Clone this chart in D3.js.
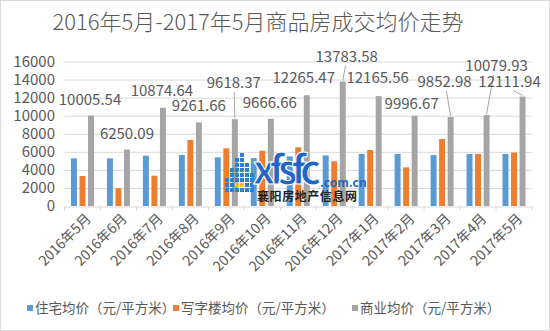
<!DOCTYPE html>
<html><head><meta charset="utf-8">
<script src="https://cdn.jsdelivr.net/npm/d3@7"></script>
<style>
body{margin:0;background:#fff}
text{font-family:"Noto Sans CJK SC","Noto Sans",sans-serif}
</style>
</head><body>
<svg id="c" width="550" height="331"></svg>
<script>
const categories = ["2016年5月","2016年6月","2016年7月","2016年8月","2016年9月","2016年10月","2016年11月","2016年12月","2017年1月","2017年2月","2017年3月","2017年4月","2017年5月"];
const residential = [5280,5280,5570,5650,5390,5300,5500,5600,5760,5760,5650,5760,5760];
const office = [3320,1960,3360,7310,6390,6120,6500,4950,6200,4280,7420,5760,5920];
const commercial = [10005.54,6250.09,10874.64,9261.66,9618.37,9666.66,12265.47,13783.58,12165.56,9996.67,9852.98,10079.93,12111.94];
const seriesNames = ["住宅均价（元/平方米）","写字楼均价（元/平方米）","商业均价（元/平方米）"];
const seriesColors = ["#5b9bd5","#ed7d31","#a5a5a5"];
const yTicks = [0,2000,4000,6000,8000,10000,12000,14000,16000];
const titleText = "2016年5月-2017年5月商品房成交均价走势";

// label layout (offset of label centre from top-centre of commercial bar)
const labelDx = [-1,0,-1,0,-1,-1,-3,4,-1,-3,-6,10,-13];
const labelDy = [-16,-16,-17,-17,-36,-16,-17,-25,-18,-12,-35,-49,-15];
const leader  = [0,0,0,0,1,0,0,1,0,0,1,1,1];

const svg = d3.select("#c");
svg.append("rect").attr("x",0.5).attr("y",0.5).attr("width",549).attr("height",330)
  .attr("fill","#fff").attr("stroke","#d9d9d9");

const x0 = d3.scaleBand().domain(categories).range([64.5,532]).paddingInner(0.36).paddingOuter(0.18);
const x1 = d3.scaleBand().domain([0,1,2]).range([0,x0.bandwidth()]).paddingInner(0.3);
const y = d3.scaleLinear().domain([0,16000]).range([206,61.5]);

// title
svg.append("text").attr("x",258).attr("y",29.5).attr("text-anchor","middle")
  .attr("font-size",22).attr("font-weight",300).attr("fill","#595959").text(titleText);

// gridlines
svg.append("g").selectAll("line").data(yTicks.slice(1)).join("line")
  .attr("x1",64.5).attr("x2",532).attr("y1",d=>y(d)+0.5).attr("y2",d=>y(d)+0.5)
  .attr("stroke","#d9d9d9").attr("stroke-width",1);

// y labels
svg.append("g").selectAll("text").data(yTicks).join("text")
  .attr("x",55).attr("y",d=>y(d)).attr("dy","0.35em").attr("text-anchor","end")
  .attr("font-size",15).attr("fill","#595959").text(d=>d);

// bars
const series = [residential, office, commercial];
const g = svg.append("g");
series.forEach((vals,si)=>{
  g.append("g").selectAll("rect").data(vals).join("rect")
    .attr("x",(d,i)=>x0(categories[i])+x1(si))
    .attr("width",x1.bandwidth())
    .attr("y",d=>y(d)).attr("height",d=>y(0)-y(d))
    .attr("fill",seriesColors[si]);
});

// x axis
const xAxis = d3.axisBottom(x0).tickSize(0).tickFormat("");
const ax = svg.append("g").attr("transform",`translate(0,${y(0)+0.5})`).call(xAxis);
ax.select(".domain").attr("stroke","#d9d9d9");
const bounds = categories.map(c=>x0(c)-x0.step()*x0.paddingInner()/2).concat([532]);
ax.selectAll(".tk").data(bounds).join("line").attr("class","tk")
  .attr("x1",d=>d).attr("x2",d=>d).attr("y1",0).attr("y2",4).attr("stroke","#d9d9d9");

svg.append("g").selectAll("text").data(categories).join("text")
  .attr("transform",d=>`translate(${x0(d)+x0.bandwidth()/2+6},${y(0)+10}) rotate(-45)`)
  .attr("text-anchor","end").attr("dy","0.35em")
  .attr("font-size",14).attr("fill","#595959").text(d=>d);

// data labels
const fmt = d3.format(".2f");
const lab = svg.append("g");
commercial.forEach((v,i)=>{
  const bx = x0(categories[i])+x1(2)+x1.bandwidth()/2;
  const by = y(v);
  const lx = bx+labelDx[i], ly = by+labelDy[i];
  if(leader[i]){
    lab.append("line").attr("x1",lx-labelDx[i]*0.3).attr("y1",ly+9).attr("x2",bx).attr("y2",by-1)
      .attr("stroke","#a6a6a6").attr("stroke-width",1);
  }
  lab.append("text").attr("x",lx).attr("y",ly).attr("dy","0.35em").attr("text-anchor","middle")
    .attr("font-size",15).attr("fill","#595959").text(fmt(v));
});

// watermark
const wm = svg.append("g");
const colH = [3,5,7,8,6,4];
colH.forEach((h,c)=>{
  for(let r=0;r<h;r++){
    wm.append("rect").attr("x",225+c*5).attr("y",188-r*5).attr("width",4).attr("height",4)
      .attr("fill", (c===2&&r===1)||(c===3&&r===1)? "#f5c400" : "#2f7fd8");
  }
});
wm.append("text").attr("x",253).attr("y",184).attr("font-size",40).attr("font-weight","bold")
  .attr("font-family","Liberation Sans, Arial, sans-serif").attr("fill","#2266c4")
  .attr("stroke","#fff").attr("stroke-width",1).attr("textLength",68).text("xfsfc");
wm.append("text").attr("x",320).attr("y",187).attr("font-size",12).attr("font-weight","bold")
  .attr("font-family","Liberation Sans, Arial, sans-serif").attr("fill","#2266c4").text(".com.cn");
wm.append("text").attr("x",257).attr("y",201).attr("font-size",12).attr("font-weight","bold")
  .attr("fill","#222").attr("textLength",100).text("襄阳房地产信息网");

// legend
const lg = svg.append("g");
const legX = [27,173,352];
seriesNames.forEach((n,i)=>{
  lg.append("rect").attr("x",legX[i]).attr("y",305).attr("width",6).attr("height",6).attr("fill",seriesColors[i]);
  lg.append("text").attr("x",legX[i]+8).attr("y",308).attr("dy","0.35em")
    .attr("font-size",13.5).attr("fill","#595959").text(n);
});
</script>
</body></html>
